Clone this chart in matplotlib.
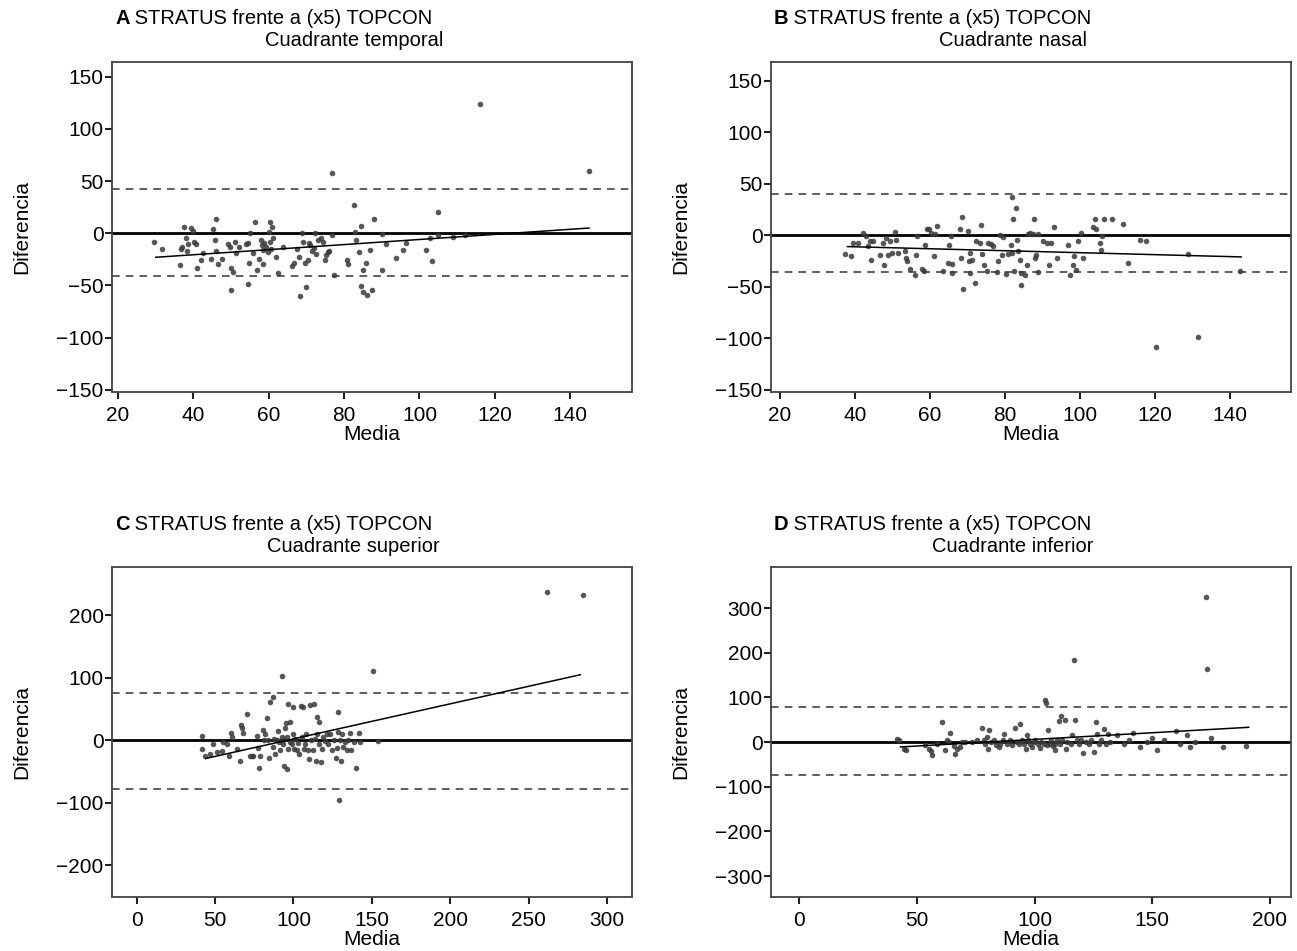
import numpy as np
import matplotlib.pyplot as plt

plt.rcParams['font.family'] = ['Liberation Sans', 'DejaVu Sans']
plt.rcParams['axes.unicode_minus'] = True

# Panel A - cuadrante temporal
media_a = [29.6, 31.6, 36.5, 36.7, 37.1, 37.5, 38.0, 38.3, 38.6, 39.3, 39.8, 40.2, 40.7, 40.9,
           42.0, 42.6, 44.6, 45.1, 45.8, 46.0, 46.1, 46.4, 47.5, 49.1, 49.7, 50.0, 50.4, 50.1,
           51.0, 51.3, 52.0, 53.9, 54.4, 54.6, 54.8, 55.1, 55.9, 56.4, 56.9, 57.3, 57.9, 58.2,
           58.4, 58.6, 58.8, 59.3, 59.7, 60.0, 60.2, 60.4, 60.6, 60.9, 61.0, 61.9, 62.4, 63.9,
           66.2, 66.8, 67.5, 68.1, 68.4, 68.8, 69.0, 69.5, 69.9, 70.3, 70.6, 71.0, 71.5, 71.9,
           72.4, 72.6, 73.0, 73.9, 74.3, 74.8, 75.2, 75.7, 75.9, 76.8, 76.8, 77.2, 80.7, 81.0,
           82.5, 82.9, 83.2, 83.9, 84.5, 84.5, 85.0, 85.1, 85.9, 86.0, 87.0, 87.4, 87.9, 90.0,
           90.1, 91.2, 93.8, 95.6, 96.5, 101.8, 102.9, 103.3, 104.9, 104.9, 109.0, 112.0,
           116.0, 145.0]
dif_a = [-8.7, -15.0, -30.0, -15.3, -12.8, 5.7, -4.2, -16.7, -10.6, 5.4, 2.5, -8.0, -9.9, -33.2,
         -25.6, -18.6, -24.3, 3.8, -6.8, -16.7, 14.0, -29.4, -24.9, -10.6, -12.8, -33.6, -37.4, -54.6,
         -8.0, -19.2, -13.5, -10.3, -9.0, -48.5, -28.5, 0.3, -19.2, 11.1, -34.8, -24.6, -6.4, -11.2,
         -29.7, -16.3, -9.0, -12.8, -17.6, 1.5, -8.0, 11.1, -15.3, 5.7, -4.8, -23.0, -37.7, -13.5,
         -31.0, -28.8, -15.0, -22.4, -60.0, 0.0, -8.0, -28.8, -51.4, -25.6, -9.6, -11.2, -16.7, -14.4,
         0.6, -20.2, -6.4, -4.8, -8.0, -25.6, -20.8, -17.6, -16.7, 57.4, -1.7, -40.0, -25.6, -29.4,
         26.7, 1.5, -6.4, -17.6, 7.3, -50.5, -35.1, -56.5, -28.8, -59.4, -16.0, -54.3, 14.0, -35.1,
         -1.0, -10.3, -24.0, -16.0, -9.6, -16.0, -4.8, -26.5, 20.3, -1.7, -4.0, -2.0,
         124.0, 60.0]
loa_a = [42.7, -41.0]
reg_a_x = [30, 145]
reg_a_y = [-23, 5]

# Panel B - cuadrante nasal
media_b = [37.3, 38.9, 39.6, 40.9, 42.2, 42.9, 43.6, 44.0, 44.4, 44.9, 46.7, 47.6, 47.7, 48.4,
           48.9, 49.3, 50.0, 50.7, 50.9, 51.6, 53.3, 53.6, 53.8, 54.7, 56.0, 56.4, 56.6, 58.0,
           58.4, 58.7, 59.1, 59.8, 60.4, 61.1, 61.3, 62.0, 63.6, 64.9, 65.2, 65.5, 65.8, 66.0,
           68.0, 68.3, 68.6, 68.7, 70.2, 70.5, 70.7, 70.8, 71.1, 72.0, 72.4, 73.3, 73.6, 74.0,
           74.4, 75.1, 75.6, 76.2, 76.9, 77.8, 78.2, 78.7, 79.1, 79.4, 80.4, 80.9, 81.5, 81.8,
           82.0, 82.2, 82.4, 82.9, 83.3, 83.6, 84.0, 84.2, 84.4, 85.3, 85.8, 86.2, 86.8, 87.4,
           87.7, 88.0, 88.3, 88.9, 88.9, 90.2, 91.1, 91.8, 92.4, 93.2, 93.8, 96.9, 97.3, 98.2,
           98.4, 98.9, 99.4, 100.4, 100.9, 103.6, 104.0, 104.4, 105.3, 105.5, 105.8, 106.4,
           108.5, 111.5, 112.8, 116.0, 117.6, 120.2, 128.8, 131.6, 142.7]
dif_b = [-18.2, -20.5, -7.5, -7.5, 2.3, -1.0, -10.7, -5.9, -23.7, -5.9, -18.8, -7.5, -28.6, -2.6,
         -19.5, -5.9, -17.2, 3.3, -4.9, -17.2, -15.6, -22.1, -25.3, -32.5, -38.3, -18.8, -1.0, -32.5,
         -35.1, -9.1, 6.5, 5.6, 2.3, -20.5, 1.3, 8.8, -35.1, -27.0, -9.1, -1.0, -36.7, -27.9,
         6.5, -22.1, 17.3, -52.0, 3.9, -25.3, -17.2, -36.7, -23.7, -46.5, -5.9, -7.5, 10.4, -18.2,
         -28.6, -35.1, -7.5, -8.5, -10.7, -35.7, -25.3, 0.7, -18.8, -1.9, -37.7, -18.2, -9.1, -17.2,
         37.1, 16.0, -35.1, 26.7, -4.2, -15.6, -23.7, -48.7, -36.7, -38.3, -28.6, 1.3, 2.3, 1.3,
         16.0, -22.1, -18.8, 1.3, -35.7, -5.9, -7.5, -29.2, -7.5, 8.1, -22.1, -9.7, -39.0, -29.2,
         -20.5, -33.5, -5.9, 2.3, -22.1, 7.8, 16.0, 5.6, -7.5, -14.0, -1.0, 16.0,
         16.0, 10.7, -27.0, -5.0, -6.0, -108.5, -18.0, -99.0, -35.0]
loa_b = [40.0, -36.0]
reg_b_x = [38, 143]
reg_b_y = [-11, -21]

# Panel C - cuadrante superior
media_c = [41.4, 41.9, 43.6, 46.8, 48.5, 51.0, 54.2, 55.3, 57.8, 59.1, 60.0, 60.6, 63.8, 65.9,
           66.3, 67.0, 68.0, 70.2, 72.3, 73.4, 74.4, 76.6, 77.6, 78.3, 78.7, 80.8, 81.2, 81.9,
           82.9, 84.0, 84.6, 85.1, 86.8, 87.2, 87.6, 88.3, 89.3, 90.4, 91.0, 91.5, 92.5, 92.5,
           93.2, 93.6, 94.2, 94.6, 95.3, 95.7, 96.1, 96.8, 96.8, 97.8, 97.8, 98.9, 99.5, 100.0,
           100.4, 101.0, 102.1, 103.2, 103.8, 104.7, 105.3, 106.0, 106.4, 107.4, 108.1, 109.0,
           110.2, 110.6, 111.0, 112.3, 113.2, 113.8, 114.4, 114.9, 115.3, 116.0, 116.6, 117.4,
           118.1, 119.1, 120.2, 121.3, 122.3, 123.4, 124.4, 125.9, 127.2, 127.6, 128.1, 128.7,
           129.1, 129.8, 130.2, 130.8, 131.9, 133.0, 134.0, 135.1, 136.1, 136.6, 138.3, 140.0,
           141.5, 142.5, 151.0, 154.2, 262.0, 285.0]
dif_c = [7.0, -14.4, -25.7, -21.4, -6.4, -19.3, -17.1, -2.7, -5.4, -25.7, 11.8, 5.4, -13.4, -33.2,
         24.1, 20.4, 11.8, 41.8, -24.6, -24.6, -24.6, 6.4, -11.8, -43.9, -25.7, 16.1, 0.0, 10.7,
         35.9, 0.0, -27.8, 61.6, 69.6, -10.7, 2.7, -22.5, 0.0, 15.0, -2.7, -15.0, 102.8, 5.4,
         -5.4, 0.0, -40.2, 20.4, 27.8, -45.5, 5.4, 57.8, -13.4, 29.5, -2.7, -5.4, 9.6, 53.6,
         -13.4, 2.7, -16.1, -4.3, -21.4, 54.6, 5.4, 53.6, -13.4, -5.4, 10.7, -15.0,
         -29.5, 56.2, 0.0, -15.0, 57.8, 2.7, -33.2, 37.5, 10.7, 29.5, -5.4, -34.8,
         -13.4, 5.4, -1.1, 10.7, -6.4, 10.7, -16.1, 1.1, -27.8, -11.8, 45.5, 13.4,
         -95.3, 0.0, -33.2, 10.7, -10.7, -2.7, -15.0, 0.0, 11.8, -15.0, -2.7, -43.9,
         11.8, -2.7, 111.4, -1.6, 238.0, 232.0]
loa_c = [76.0, -77.0]
reg_c_x = [44, 283]
reg_c_y = [-29, 105]

# Panel D - cuadrante inferior
media_d = [41.6, 42.3, 44.7, 45.5, 53.6, 55.0, 56.0, 56.6, 58.6, 60.6, 62.1, 62.8, 63.5, 64.2,
           65.7, 66.1, 67.1, 68.2, 69.2, 70.6, 73.5, 75.6, 77.7, 78.4, 79.1, 79.9, 80.1, 80.6,
           81.6, 82.7, 83.8, 84.8, 85.5, 86.7, 87.2, 88.4, 89.5, 90.5, 91.9, 92.6, 93.3, 94.0,
           94.7, 95.5, 96.2, 96.6, 97.2, 98.0, 99.0, 99.7, 100.4, 101.4, 102.3, 102.8, 104.0,
           104.4, 104.7, 105.4, 105.8, 106.5, 107.1, 107.9, 108.5, 108.9, 109.6, 110.3, 110.8,
           111.3, 111.8, 112.8, 113.2, 113.9, 115.3, 116.0, 116.7, 117.2, 117.9, 118.9, 119.6,
           120.7, 121.7, 123.1, 124.1, 125.2, 126.0, 126.7, 127.4, 128.4, 129.5, 130.2, 131.2,
           132.1, 135.0, 138.0, 140.0, 142.0, 145.0, 148.0, 150.0, 152.0, 155.0, 160.0, 162.0,
           165.0, 166.0, 168.0, 172.8, 173.2, 175.0, 180.0, 190.0]
dif_d = [7.6, 5.3, -14.9, -18.6, -7.5, -15.0, -20.0, -30.0, -3.7, 45.0, -17.2, 3.7, 0.0, 20.2,
         -9.7, -27.7, -15.0, -11.2, 0.0, 0.0, 0.0, 5.2, 32.3, 3.7, -3.7, 11.3, -15.0, 26.3,
         0.0, 3.7, -7.5, -11.2, -5.2, 3.7, 18.7, -3.7, 5.2, -7.5, 32.3, 0.0, -3.7, 41.3,
         5.2, -3.7, -15.0, 15.0, 5.2, -3.7, -11.2, 0.0, 5.2, -5.2, -12.7, 0.0, -5.2,
         95.2, 87.7, -7.5, 27.7, -5.2, 5.2, -9.7, -18.6, -3.7, 5.2, 47.3, -5.2,
         57.8, 3.7, 50.3, -15.0, 0.0, -5.2, 15.0, 183.6, 50.3, 5.2, -3.7, 5.2,
         -24.7, 0.0, -5.2, 5.2, -22.5, 45.0, 17.2, -5.2, 5.2, 30.0, -5.2, 18.7,
         0.0, 15.0, -5.0, 5.0, 20.0, -10.0, 0.0, 10.0, -18.0, 5.0, 25.0, -5.0,
         15.0, -10.0, 0.0, 325.0, 163.0, 10.0, -10.0, -8.0]
loa_d = [78.6, -73.0]
reg_d_x = [43, 191]
reg_d_y = [-11, 33]

panels = [
    ('A', 'Cuadrante temporal', media_a, dif_a, loa_a, reg_a_x, reg_a_y,
     (18.4, 156.4), (-152, 164), np.arange(20, 141, 20), np.arange(-150, 151, 50)),
    ('B', 'Cuadrante nasal', media_b, dif_b, loa_b, reg_b_x, reg_b_y,
     (17.6, 156.3), (-152, 168), np.arange(20, 141, 20), np.arange(-150, 151, 50)),
    ('C', 'Cuadrante superior', media_c, dif_c, loa_c, reg_c_x, reg_c_y,
     (-15.8, 316), (-250.6, 277.4), np.arange(0, 301, 50), np.arange(-200, 201, 100)),
    ('D', 'Cuadrante inferior', media_d, dif_d, loa_d, reg_d_x, reg_d_y,
     (-12, 209), (-347, 392), np.arange(0, 201, 50), np.arange(-300, 301, 100)),
]

W, H = 1297, 951
fig = plt.figure(figsize=(W / 100, H / 100), dpi=100)
boxes = [(112, 62), (771, 62), (112, 567), (771, 567)]
aw, ah = 520, 330
fs = 15
fs_tit = 14.5

for (letra, sub, x, y, loa, rx, ry, xl, yl, xt, yt), (bx, by) in zip(panels, boxes):
    ax = fig.add_axes([bx / W, 1 - (by + ah) / H, aw / W, ah / H])
    ax.scatter(x, y, s=16, color='#3a3a3a', alpha=0.85, linewidths=0, zorder=3)
    ax.axhline(0, color='black', lw=2.0, zorder=2)
    for v in loa:
        ax.axhline(v, color='#333333', lw=1.1, ls=(0, (5, 4)), zorder=2)
    ax.plot(rx, ry, color='black', lw=1.1, zorder=4)
    ax.set_xlim(xl)
    ax.set_ylim(yl)
    ax.set_xticks(xt)
    ax.set_yticks(yt)
    ax.tick_params(axis='x', labelsize=fs, length=5, width=1.5, color='#222222', pad=5)
    ax.tick_params(axis='y', labelsize=fs, length=5, width=1.5, color='#222222', pad=1)
    for s in ax.spines.values():
        s.set_color('#444444')
        s.set_linewidth(1.3)
    ax.set_xlabel('Media', fontsize=fs, labelpad=0)
    ax.set_ylabel('Diferencia', fontsize=fs, labelpad=18)
    off = 3 / aw
    ax.text(off, 1 + 43 / ah, letra, fontsize=fs_tit, fontweight='bold',
            transform=ax.transAxes, va='center', ha='left')
    ax.text(off + 14 / aw, 1 + 43 / ah, ' STRATUS frente a (x5) TOPCON', fontsize=fs_tit,
            transform=ax.transAxes, va='center', ha='left')
    ax.text(0.465, 1 + 21 / ah, sub, fontsize=fs_tit, transform=ax.transAxes,
            va='center', ha='center')

fig.savefig('out.png', dpi=100)
